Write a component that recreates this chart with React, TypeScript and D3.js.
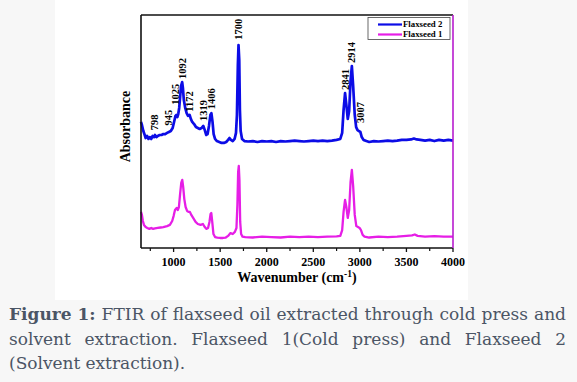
import React, { useEffect, useRef } from "react";
import * as d3 from "d3";

// Flaxseed 2 (blue)
const flax2Wn = [650,660,675,690,700,715,730,745,760,775,790,800,815,830,850,870,890,910,930,950,970,990,1005,1020,1030,1040,1050,1060,1070,1080,1092,1100,1110,1125,1140,1155,1172,1185,1200,1220,1240,1260,1280,1300,1319,1335,1350,1365,1380,1395,1406,1418,1430,1445,1465,1490,1515,1540,1565,1585,1600,1615,1635,1655,1670,1680,1690,1697,1705,1712,1720,1735,1760,1800,1850,1900,1950,2000,2050,2100,2150,2200,2250,2300,2350,2400,2450,2500,2550,2600,2650,2700,2750,2790,2810,2825,2841,2855,2870,2885,2900,2914,2928,2945,2960,2975,2990,3005,3020,3040,3070,3100,3150,3200,3250,3300,3350,3400,3450,3500,3550,3580,3610,3650,3700,3750,3800,3850,3900,3950,4000];
const flax2Abs = [54.1,52.8,50.2,48.5,47.2,48.1,46.8,47.6,46.8,48.1,47.6,48.5,47.6,48.1,48.5,48.5,48.9,48.9,49.4,49.8,50.2,51.5,54.1,56.7,57.1,56.2,57.5,60.1,64.8,69.5,71.2,68.7,63.5,60.1,57.9,56.7,57.1,55.4,54.1,53.2,51.9,51.5,51.1,51.5,52.4,50.6,48.5,48.9,52.4,57.1,57.9,54.1,48.9,46.8,45.9,45.5,45.1,45.1,45.5,46.4,47.2,46.4,45.9,46.8,49.4,57.1,78.5,87.1,80.7,59.2,50.2,46.8,45.9,45.7,45.9,45.5,45.9,45.7,45.9,45.5,45.9,45.7,45.9,46.1,45.9,45.7,45.9,46.1,45.9,46.1,45.9,46.1,46.4,46.8,49.4,59.2,66.5,61.4,55.4,58.8,71.7,78.1,69.5,57.1,51.9,50.6,50.2,49.8,47.6,46.4,45.9,45.5,45.9,45.7,45.9,46.1,45.9,46.1,46.4,46.4,46.6,47.0,46.6,46.4,46.1,46.4,45.9,46.4,46.1,46.4,46.1];

// Flaxseed 1 (magenta)
const flax1Wn = [650,660,670,682,700,718,740,760,780,800,830,860,890,930,960,985,1000,1015,1033,1045,1057,1070,1082,1093,1103,1115,1129,1145,1160,1175,1190,1210,1236,1260,1290,1315,1335,1351,1370,1385,1397,1405,1415,1428,1445,1470,1500,1530,1560,1585,1611,1635,1658,1675,1685,1693,1700,1707,1715,1725,1740,1770,1850,1950,2050,2150,2250,2350,2450,2550,2650,2750,2790,2810,2825,2841,2855,2870,2885,2900,2914,2928,2945,2962,2980,2997,3012,3030,3050,3100,3200,3300,3400,3500,3560,3590,3620,3700,3800,3900,4000];
const flax1Abs = [15.5,14.2,11.6,9.9,9.0,8.6,8.2,8.6,8.2,8.4,8.6,8.8,9.0,9.4,9.9,11.6,13.7,16.3,17.2,16.3,17.6,23.2,27.9,29.2,26.2,21.0,17.6,15.9,15.5,15.5,14.2,12.9,11.2,10.3,9.9,10.3,9.0,8.2,8.6,11.2,14.6,15.0,11.2,6.0,4.7,4.5,4.3,4.3,4.5,5.2,6.4,6.0,6.9,8.6,18.5,32.6,35.2,29.2,11.2,6.0,4.9,4.7,4.5,4.9,4.7,4.5,4.9,4.7,4.9,4.7,4.9,5.0,5.2,7.7,15.5,20.6,17.6,12.9,16.3,28.3,33.5,26.6,14.2,9.4,9.0,8.6,7.7,5.6,4.9,4.5,4.9,4.7,4.9,5.2,5.4,5.8,5.2,4.9,5.1,4.9,4.9];

const xTicks = [1000,1500,2000,2500,3000,3500,4000];
const xMinorTicks = [750,1250,1750,2250,2750,3250,3750];

const peakLabels = ["798","945","1025","1092","1172","1319","1406","1700","2841","2914","3007"];
const peakWn = [798,945,1025,1092,1172,1319,1406,1700,2841,2914,3007];
const peakLabelAbs = [50.5,52.6,61.5,72.5,58.5,54.5,59.5,89.4,67.8,79.4,53.6];

const seriesNames = ["Flaxseed 2","Flaxseed 1"];
const seriesColors = ["#0c0ce6","#e61ee6"];

const captionLines = [
  [["Figure",true],["1:",true],["FTIR",false],["of",false],["flaxseed",false],["oil",false],["extracted",false],["through",false],["cold",false],["press",false],["and",false]],
  [["solvent",false],["extraction.",false],["Flaxseed",false],["1(Cold",false],["press)",false],["and",false],["Flaxseed",false],["2",false]],
  [["(Solvent",false],["extraction).",false]],
];

const W = 577, H = 382;
const L = 141, R = 453, T = 15, B = 248;

export default function App() {
  const capRef = useRef(null);
  const x = d3.scaleLinear().domain([650, 4000]).range([L, R]);
  const y = d3.scaleLinear().domain([0, 100]).range([B, T]);
  const mk = (wn: number[], ab: number[]) =>
    d3.line<number>().x((d) => x(wn[d])).y((d) => y(ab[d]))(wn.map((_, i) => i)) || "";
  const p2 = mk(flax2Wn, flax2Abs);
  const p1 = mk(flax1Wn, flax1Abs);

  const capX0 = 9, capX1 = 566;
  const capY = [320, 345, 369];

  useEffect(() => {
    if (!capRef.current) return;
    const g = d3.select(capRef.current);
    captionLines.forEach((ln, li) => {
      const nodes = g.selectAll(`text.l${li}`).nodes() as SVGTextElement[];
      const widths = nodes.map((n) => n.getComputedTextLength());
      const total = widths.reduce((a, b) => a + b, 0);
      const justify = li < captionLines.length - 1;
      const space = justify ? (capX1 - capX0 - total) / (nodes.length - 1) : 5;
      let cx = capX0;
      nodes.forEach((n, i) => {
        n.setAttribute("x", String(cx));
        cx += widths[i] + space;
      });
    });
  }, []);

  return (
    <svg width={W} height={H} style={{ position: "absolute", left: 0, top: 0, background: "#f7f7f7" }}>
      <rect x={55} y={0} width={413} height={300} fill="#ffffff" />
      <g fontFamily="'Liberation Serif', serif" fontWeight="bold" fill="#000">
        <path d={p1} fill="none" stroke={seriesColors[1]} strokeWidth={2.3} strokeLinejoin="round" />
        <path d={p2} fill="none" stroke={seriesColors[0]} strokeWidth={2.7} strokeLinejoin="round" />
        {/* frame */}
        <line x1={L} y1={T} x2={R} y2={T} stroke="#111" strokeWidth={1.6} />
        <line x1={L} y1={T} x2={L} y2={B} stroke="#111" strokeWidth={1.6} />
        <line x1={L} y1={B} x2={R} y2={B} stroke="#111" strokeWidth={1.6} />
        <line x1={R} y1={T} x2={R} y2={B} stroke="#b81ccf" strokeWidth={1.6} />
        {xTicks.map((t) => (
          <g key={t}>
            <line x1={x(t)} x2={x(t)} y1={B} y2={B + 4} stroke="#111" strokeWidth={1.3} />
            <text x={x(t)} y={B + 18} textAnchor="middle" fontSize={12}>{t}</text>
          </g>
        ))}
        {xMinorTicks.map((t) => (
          <line key={t} x1={x(t)} x2={x(t)} y1={B} y2={B + 3} stroke="#111" strokeWidth={1.2} />
        ))}
        <text x={297} y={282} textAnchor="middle" fontSize={14}>
          Wavenumber (cm<tspan fontSize={9.5} dy={-5}>-1</tspan><tspan dy={5}>)</tspan>
        </text>
        <text transform={`translate(125,${(T + B) / 2 - 5}) rotate(-90)`} textAnchor="middle" dominantBaseline="central" fontSize={14}>Absorbance</text>
        {peakLabels.map((lb, i) => (
          <text key={lb} transform={`translate(${x(peakWn[i])},${y(peakLabelAbs[i])}) rotate(-90)`} dominantBaseline="central" fontSize={10.5}>{lb}</text>
        ))}
        {/* legend */}
        <rect x={368} y={17.5} width={82} height={22} fill="#fff" stroke="#444" strokeWidth={0.8} />
        {seriesNames.map((nm, i) => (
          <g key={nm}>
            <line x1={378} x2={402} y1={24.5 + i * 10} y2={24.5 + i * 10} stroke={seriesColors[i]} strokeWidth={2.2} />
            <text x={403} y={24.5 + i * 10} dy="0.33em" fontSize={8.8}>{nm}</text>
          </g>
        ))}
      </g>
      <g ref={capRef} fontFamily="'DejaVu Serif', serif" fontSize={17} fill="#4b5565">
        {captionLines.map((ln, li) =>
          ln.map(([w, b], wi) => (
            <text key={`${li}-${wi}`} className={`l${li}`} x={capX0} y={capY[li]} fontWeight={b ? "bold" : "normal"}>{w as string}</text>
          ))
        )}
      </g>
    </svg>
  );
}
